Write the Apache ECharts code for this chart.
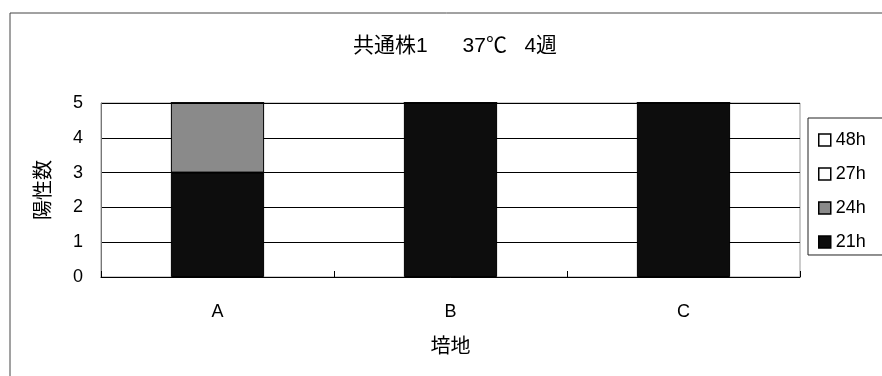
<!DOCTYPE html>
<html>
<head>
<meta charset="utf-8">
<script src="https://cdn.jsdelivr.net/npm/echarts@6/dist/echarts.min.js"></script>
<style>
html,body{margin:0;padding:0;background:#fff;}
#c{width:882px;height:376px;}
</style>
</head>
<body>
<div id="c"></div>
<script>
const titleText = '共通株1      37℃   4週';
const categories = ['A', 'B', 'C'];
const yTicks = [0, 1, 2, 3, 4, 5];
const s21h = [3, 5, 5];
const s24h = [2, 0, 0];
const s27h = [0, 0, 0];
const s48h = [0, 0, 0];
const seriesNames = ['21h', '24h', '27h', '48h'];
const legendOrder = ['48h', '27h', '24h', '21h'];
const seriesColors = ['#0d0d0d', '#8a8a8a', '#ffffff', '#ffffff'];
const seriesData = [s21h, s24h, s27h, s48h];

const font = '"Liberation Sans", Arial, "Noto Sans CJK JP", sans-serif';
const chart = echarts.init(document.getElementById('c'), null, {renderer: 'canvas'});
chart.setOption({
  backgroundColor: '#fff',
  animation: false,
  title: {
    text: titleText,
    left: 450, textAlign: 'center', top: 31,
    textStyle: {fontSize: 21, fontWeight: 'normal', color: '#000', fontFamily: font}
  },
  graphic: [{
    type: 'rect', shape: {x: 10, y: 13, width: 900, height: 400},
    style: {fill: 'none', stroke: '#444', lineWidth: 1}, z: -1
  }],
  grid: {
    left: 101, right: 82, top: 103, bottom: 99,
    show: true, borderColor: '#999', borderWidth: 1, backgroundColor: '#fff'
  },
  legend: {
    orient: 'vertical', left: 808, top: 118,
    data: legendOrder,
    icon: 'rect',
    itemWidth: 12, itemHeight: 12, itemGap: 16,
    padding: [13, 30, 4, 10],
    borderColor: '#222', borderWidth: 1, backgroundColor: '#fff',
    textStyle: {fontSize: 18, color: '#000', fontFamily: font, padding: [0, 0, 0, 0]},
    itemStyle: {borderColor: '#000', borderWidth: 1.5}
  },
  xAxis: {
    type: 'category', data: categories,
    name: '培地', nameLocation: 'middle', nameGap: 60,
    nameTextStyle: {fontSize: 20, color: '#000', fontFamily: font},
    axisLine: {lineStyle: {color: '#000', width: 1}},
    axisTick: {show: true, inside: true, length: 6, lineStyle: {color: '#000'}},
    axisLabel: {fontSize: 18, color: '#000', margin: 26, fontFamily: font}
  },
  yAxis: {
    type: 'value', min: yTicks[0], max: yTicks[yTicks.length - 1], interval: 1,
    name: '陽性数', nameLocation: 'middle', nameGap: 47,
    nameTextStyle: {fontSize: 20, color: '#000', fontFamily: font},
    axisLine: {show: true, lineStyle: {color: '#777'}},
    axisTick: {show: false},
    axisLabel: {fontSize: 18, color: '#000', margin: 18, fontFamily: font},
    splitLine: {show: true, lineStyle: {color: '#000', width: 1}}
  },
  series: seriesNames.map((n, i) => ({
    name: n, type: 'bar', stack: 'total', barWidth: '40%',
    data: seriesData[i],
    itemStyle: {color: seriesColors[i], borderColor: '#000', borderWidth: 1}
  }))
});
</script>
</body>
</html>
